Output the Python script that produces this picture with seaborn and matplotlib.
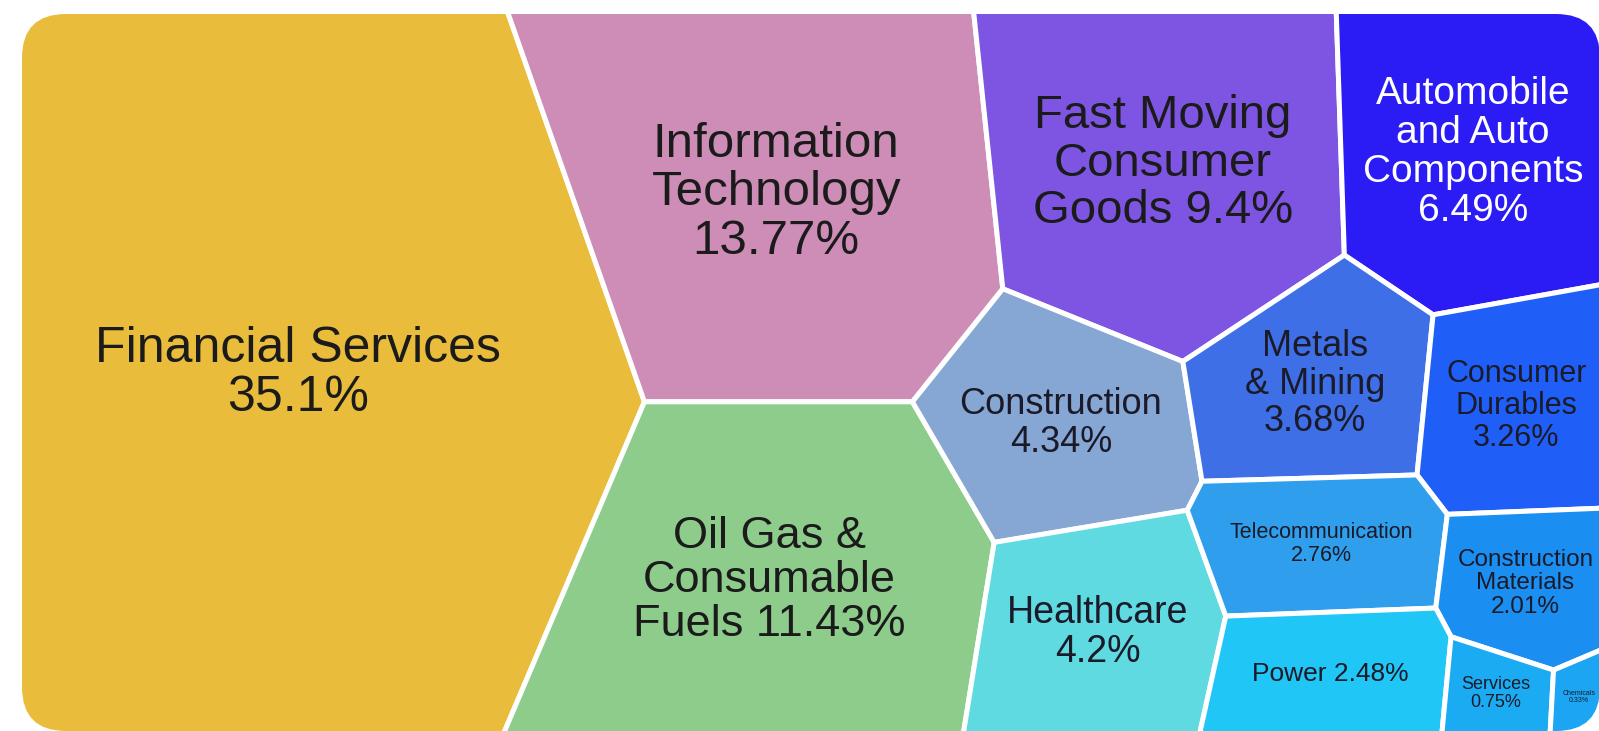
import numpy as np
import matplotlib
matplotlib.use("Agg")
import matplotlib.pyplot as plt
from matplotlib.patches import FancyBboxPatch, Polygon
import seaborn as sns

# sector weights (%)
sectors = ["Financial Services", "Information Technology", "Oil Gas & Consumable Fuels",
           "Fast Moving Consumer Goods", "Automobile and Auto Components", "Construction",
           "Metals & Mining", "Consumer Durables", "Healthcare", "Telecommunication",
           "Construction Materials", "Power", "Services", "Chemicals"]
shares = [35.1, 13.77, 11.43, 9.4, 6.49, 4.34, 3.68, 3.26, 4.2, 2.76, 2.01, 2.48, 0.75, 0.33]
label_fmt = ["Financial Services\n{}%", "Information\nTechnology\n{}%", "Oil Gas &\nConsumable\nFuels {}%",
             "Fast Moving\nConsumer\nGoods {}%", "Automobile\nand Auto\nComponents\n{}%",
             "Construction\n{}%", "Metals\n& Mining\n{}%", "Consumer\nDurables\n{}%",
             "Healthcare\n{}%", "Telecommunication\n{}%", "Construction\nMaterials\n{}%",
             "Power {}%", "Services\n{}%", "Chemicals\n{}%"]
colors = ["#E9BD3B", "#CD8DB6", "#8DCC8B", "#7D55E2", "#2B1CF5", "#86A6D3", "#3E6FE6",
          "#1F5FF7", "#5EDAE0", "#2F9EEC", "#1B8EF2", "#20C6F6", "#1AABF3", "#1BA5F2"]

# layout: voronoi sites (pixel space, y down), label sizes
sites = np.array([[300, 372], [790, 200], [790, 580], [1170, 160], [1470, 150],
                  [1065, 420], [1315, 380], [1515, 400], [1100, 630], [1320, 550],
                  [1522, 575], [1325, 680], [1483, 695], [1575, 700]], dtype=float)
font_sizes = [36, 35.5, 32.5, 34, 28, 26, 26, 22, 27, 15.5, 17.5, 19, 13, 5]
text_colors = ["#1b1b1b"] * 4 + ["white"] + ["#1a1a28"] * 9

X0, Y0, X1, Y1 = 22, 14, 1600, 731
pad = 3
frame = np.array([[X0 - pad, Y0 - pad], [X1 + pad, Y0 - pad],
                  [X1 + pad, Y1 + pad], [X0 - pad, Y1 + pad]], dtype=float)


def clip_half(poly, a, b):
    vals = poly @ a - b
    out = []
    n = len(poly)
    for k in range(n):
        p, q = poly[k], poly[(k + 1) % n]
        fp, fq = vals[k], vals[(k + 1) % n]
        if fp <= 0:
            out.append(p)
        if (fp < 0 < fq) or (fq < 0 < fp):
            out.append(p + fp / (fp - fq) * (q - p))
    return np.array(out) if out else np.zeros((0, 2))


def power_cells(s, w):
    sq = (s ** 2).sum(1)
    cells = []
    for i in range(len(s)):
        poly = frame.copy()
        for j in range(len(s)):
            if j == i or len(poly) == 0:
                continue
            poly = clip_half(poly, 2 * (s[j] - s[i]), sq[j] - sq[i] - w[j] + w[i])
        cells.append(poly)
    return cells


def area(poly):
    if len(poly) < 3:
        return 0.0
    x, y = poly[:, 0], poly[:, 1]
    return 0.5 * abs(np.dot(x, np.roll(y, -1)) - np.dot(y, np.roll(x, -1)))


def centroid(poly):
    x, y = poly[:, 0], poly[:, 1]
    xn, yn = np.roll(x, -1), np.roll(y, -1)
    c = x * yn - xn * y
    return np.array([((x + xn) * c).sum(), ((y + yn) * c).sum()]) / (3 * c.sum())


# fit weights so cell areas follow the shares
vals = np.array(shares)
target = area(frame) * vals / vals.sum()
w = np.zeros(len(vals))
for it in range(2000):
    cells = power_cells(sites, w)
    areas = np.array([area(c) for c in cells])
    err = target - areas
    if np.abs(err / target).max() < 0.003:
        break
    w += 0.25 * err

sns.set_theme(style="white")
plt.rcParams["font.family"] = ["Liberation Sans", "DejaVu Sans"]

fig = plt.figure(figsize=(15.99, 7.31), dpi=100)
ax = fig.add_axes([0, 0, 1, 1])
ax.set_xlim(0, 1599)
ax.set_ylim(731, 0)
ax.axis("off")

box = FancyBboxPatch((X0, Y0), X1 - X0, Y1 - Y0, boxstyle="round,pad=0,rounding_size=44",
                     transform=ax.transData, fc="none", ec="none")
ax.add_patch(box)

for i, cell in enumerate(cells):
    if len(cell) < 3:
        continue
    p = Polygon(cell, closed=True, fc=colors[i], ec="white", lw=3.6, joinstyle="round")
    ax.add_patch(p)
    p.set_clip_path(box)
    cx, cy = centroid(cell)
    t = ax.text(cx, cy, label_fmt[i].format(shares[i]), ha="center", va="center",
                multialignment="center", fontsize=font_sizes[i], color=text_colors[i],
                linespacing=1.1)
    t.set_clip_path(box)

fig.savefig("out.png", dpi=100)
